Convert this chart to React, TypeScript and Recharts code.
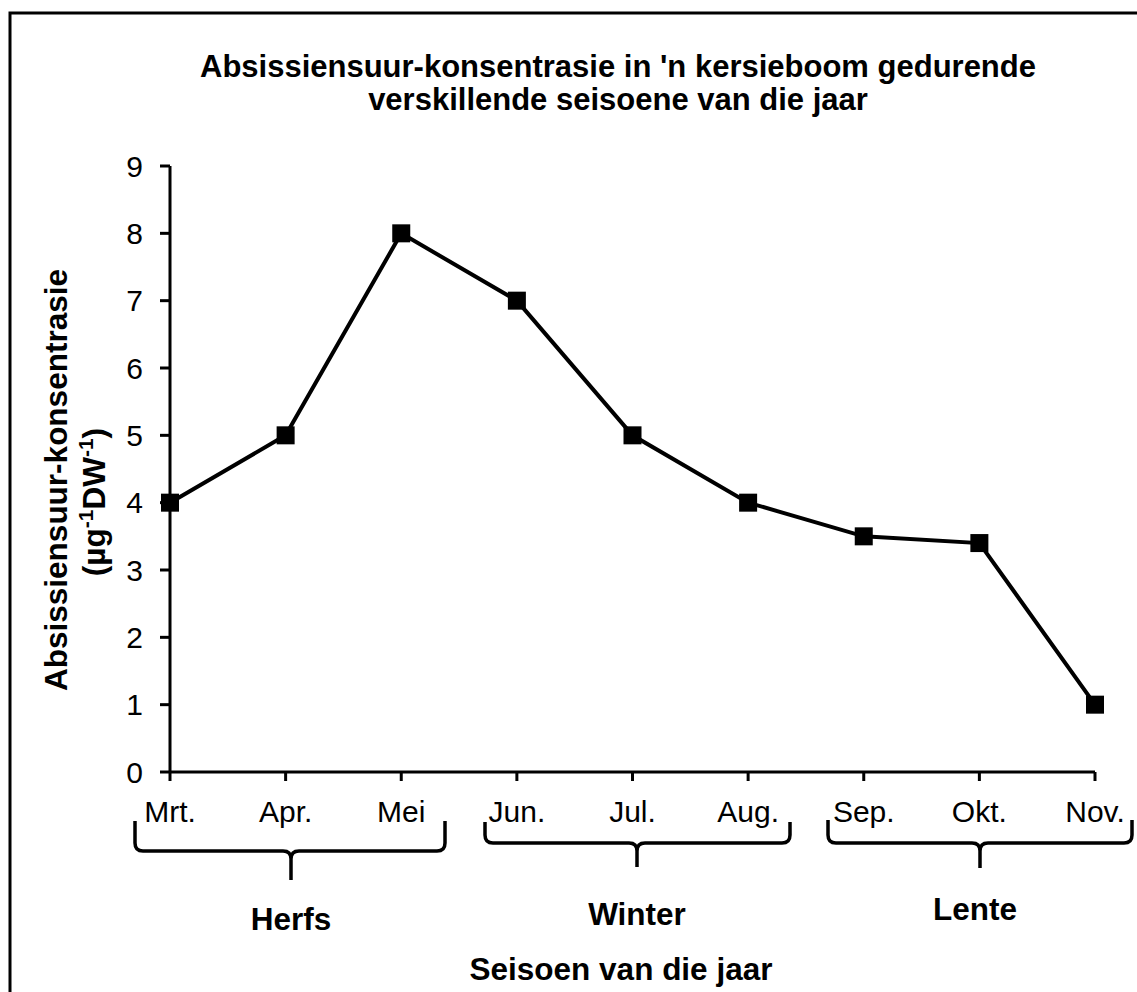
import React from "react"
import { LineChart, Line, XAxis, YAxis } from "recharts"

const months = ["Mrt.", "Apr.", "Mei", "Jun.", "Jul.", "Aug.", "Sep.", "Okt.", "Nov."]
const concentration = [4, 5, 8, 7, 5, 4, 3.5, 3.4, 1]
const yTicks = [0, 1, 2, 3, 4, 5, 6, 7, 8, 9]
const seasons = ["Herfs", "Winter", "Lente"]

const FONT = "'Liberation Sans', Arial, Helvetica, sans-serif"
const W = 1137
const H = 992
const BOLD = 31.5

const chartData = months.map((m, i) => ({ month: m, value: concentration[i] }))

function SquareDot(props: any) {
  const { cx, cy } = props
  if (cx == null || cy == null) return null
  return <rect x={cx - 9} y={cy - 9} width={18} height={18} fill="#000" />
}

// brace under a group of months: left end, right end, spike x, horizontal y, spike bottom
function Brace({ x1, x2, mid, top, y, tip }: { x1: number; x2: number; mid: number; top: number; y: number; tip: number }) {
  const r = 8
  const d =
    `M${x1},${top} L${x1},${y - r} Q${x1},${y} ${x1 + r},${y} L${mid - r},${y} Q${mid},${y} ${mid},${y + r} L${mid},${tip} ` +
    `M${x2},${top} L${x2},${y - r} Q${x2},${y} ${x2 - r},${y} L${mid + r},${y} Q${mid},${y} ${mid},${y + r}`
  return <path d={d} fill="none" stroke="#000" strokeWidth={3.5} />
}

export default function App() {
  return (
    <div style={{ position: "absolute", left: 0, top: 0, width: W, height: H, overflow: "hidden", background: "#fff" }}>
      <LineChart
        width={W}
        height={H}
        data={chartData}
        margin={{ top: 166, right: 42, bottom: 190, left: 110 }}
      >
        <XAxis
          dataKey="month"
          height={30}
          interval={0}
          tickSize={9}
          tickMargin={20}
          axisLine={{ stroke: "#000", strokeWidth: 3 }}
          tickLine={{ stroke: "#000", strokeWidth: 3 }}
          tick={{ fontSize: 30, fill: "#000", fontFamily: FONT }}
        />
        <YAxis
          type="number"
          domain={[0, 9]}
          ticks={yTicks}
          width={60}
          tickSize={10}
          tickMargin={17}
          interval={0}
          axisLine={{ stroke: "#000", strokeWidth: 3 }}
          tickLine={{ stroke: "#000", strokeWidth: 3 }}
          tick={{ fontSize: 30, fill: "#000", fontFamily: FONT }}
        />
        <Line
          type="linear"
          dataKey="value"
          stroke="#000"
          strokeWidth={4}
          dot={<SquareDot />}
          activeDot={false}
          isAnimationActive={false}
        />
      </LineChart>

      <svg
        width={W}
        height={H}
        style={{ position: "absolute", left: 0, top: 0, pointerEvents: "none" }}
        fontFamily={FONT}
      >
        <rect x={10} y={13} width={1300} height={1200} fill="none" stroke="#000" strokeWidth={3} />

        <text x={618} y={77} textAnchor="middle" fontSize={31} fontWeight="bold">
          Absissiensuur-konsentrasie in 'n kersieboom gedurende
        </text>
        <text x={618} y={110} textAnchor="middle" fontSize={31} fontWeight="bold">
          verskillende seisoene van die jaar
        </text>

        <g transform="translate(67,480) rotate(-90)">
          <text x={0} y={0} textAnchor="middle" fontSize={BOLD} fontWeight="bold">
            Absissiensuur-konsentrasie
          </text>
          <text x={-22} y={38} textAnchor="middle" fontSize={BOLD} fontWeight="bold">
            (µg
            <tspan fontSize={21} dy={-12}>-1</tspan>
            <tspan dy={12}>DW</tspan>
            <tspan fontSize={21} dy={-12}>-1</tspan>
            <tspan dy={12}>)</tspan>
          </text>
        </g>

        <Brace x1={135} x2={445} mid={291} top={821} y={851} tip={880} />
        <Brace x1={485} x2={790} mid={637} top={822} y={843} tip={867} />
        <Brace x1={828} x2={1132} mid={980} top={820} y={843} tip={868} />

        <text x={291} y={930} textAnchor="middle" fontSize={BOLD} fontWeight="bold">{seasons[0]}</text>
        <text x={637} y={925} textAnchor="middle" fontSize={BOLD} fontWeight="bold">{seasons[1]}</text>
        <text x={975} y={920} textAnchor="middle" fontSize={BOLD} fontWeight="bold">{seasons[2]}</text>

        <text x={621} y={980} textAnchor="middle" fontSize={BOLD} fontWeight="bold">
          Seisoen van die jaar
        </text>
      </svg>
    </div>
  )
}
